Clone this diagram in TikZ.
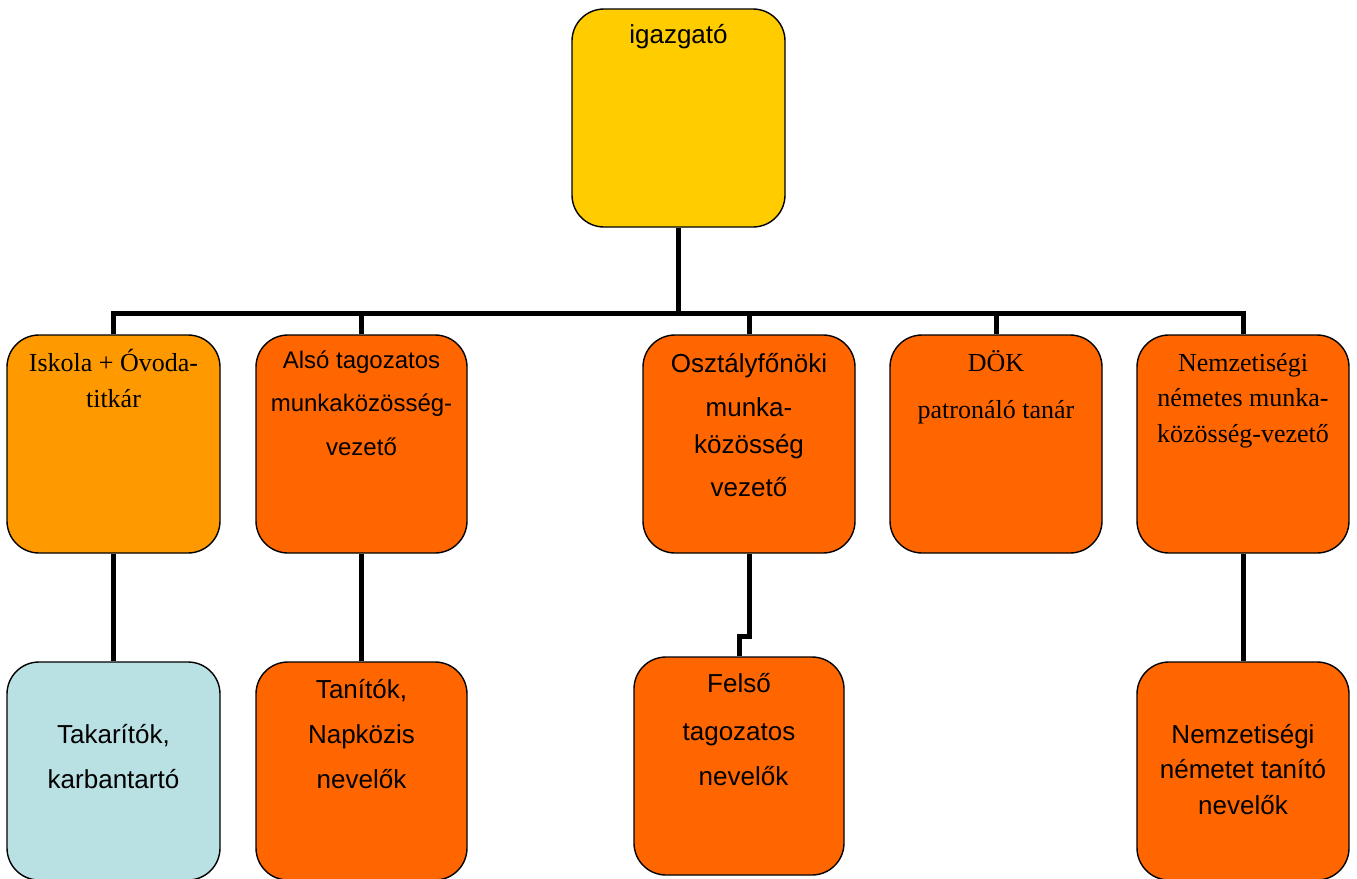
\documentclass[tikz,border=0pt]{standalone}
\usepackage{fontspec}
\setmainfont{Liberation Serif}
\setsansfont{Liberation Sans}
\definecolor{bossyellow}{RGB}{255,204,0}
\definecolor{lightorange}{RGB}{255,153,0}
\definecolor{darkorange}{RGB}{255,102,0}
\definecolor{paleblue}{RGB}{185,224,226}
\tikzset{
  box/.style={draw=black, line width=1.4pt, rounded corners=32pt, inner sep=0pt,
    minimum width=212pt, minimum height=218pt},
  conn/.style={draw=black, line width=5pt, line join=miter},
  sanstxt/.style={anchor=base, align=center, font=\sffamily\fontsize{26}{#1}\selectfont},
  seriftxt/.style={anchor=base, align=center, font=\rmfamily\fontsize{26}{#1}\selectfont},
}
\begin{document}
\begin{tikzpicture}[x=1pt,y=-1pt]
\clip (0,0) rectangle (1357,878);
\fill[white] (0,0) rectangle (1357,878);
% boxes
\node[box, fill=bossyellow, minimum width=213pt] (boss) at (678.5,118) {};
\node[box, fill=lightorange, minimum width=213pt] (c1) at (113.5,444) {};
\node[box, fill=darkorange, minimum width=211pt] (c2) at (361.5,444) {};
\node[box, fill=darkorange] (c3) at (749,444) {};
\node[box, fill=darkorange] (c4) at (996,444) {};
\node[box, fill=darkorange] (c5) at (1243,444) {};
\node[box, fill=paleblue, minimum width=213pt] (d1) at (113.5,771) {};
\node[box, fill=darkorange, minimum width=211pt] (d2) at (361.5,771) {};
\node[box, fill=darkorange, minimum width=210pt] (d3) at (739,766) {};
\node[box, fill=darkorange] (d4) at (1243,771) {};
% texts (anchor=base is the baseline of the last line)
\node[sanstxt=30] (tboss) at (678.5,43) {igazgató};
\node[seriftxt=36] (tc1) at (113.5,407) {Iskola + Óvoda-\\titkár};
\node[anchor=base, align=center, font=\sffamily\fontsize{24}{43.5}\selectfont] (tc2) at (361.5,455) {Alsó tagozatos\\munkaközösség-\\vezető};
\node[sanstxt=37] (tc3) at (749,496) {Osztályfőnöki\\[7pt]munka-\\közösség\\[6pt]vezető};
\node[seriftxt=47] (tc4) at (996,418) {DÖK\\patronáló tanár};
\node[seriftxt=35.5] (tc5) at (1243,442) {Nemzetiségi\\németes munka-\\közösség-vezető};
\node[sanstxt=45] (td1) at (113.5,788) {Takarítók,\\karbantartó};
\node[sanstxt=45] (td2) at (361.5,788) {Tanítók,\\Napközis\\nevelők};
\node[sanstxt=45] (td3) at (739,785) {Felső\\[3pt]tagozatos\\\hspace*{9pt}nevelők};
\node[sanstxt=35.5] (td4) at (1243,814) {Nemzetiségi\\németet tanító\\nevelők};
% connectors
\coordinate (bus) at (678.5,313);
\draw[conn] (boss.south) -- (bus);
\draw[conn] (bus) -| (c1.north);
\draw[conn] (bus) -| (c2.north);
\draw[conn] (bus) -| (c3.north);
\draw[conn] (bus) -| (c4.north);
\draw[conn] (bus) -| (c5.north);
\draw[conn] (c1.south) -- (d1.north);
\draw[conn] (c2.south) -- (d2.north);
\draw[conn] (c3.south) -- ++(0,83) -| (d3.north);
\draw[conn] (c5.south) -- (d4.north);
\end{tikzpicture}
\end{document}
